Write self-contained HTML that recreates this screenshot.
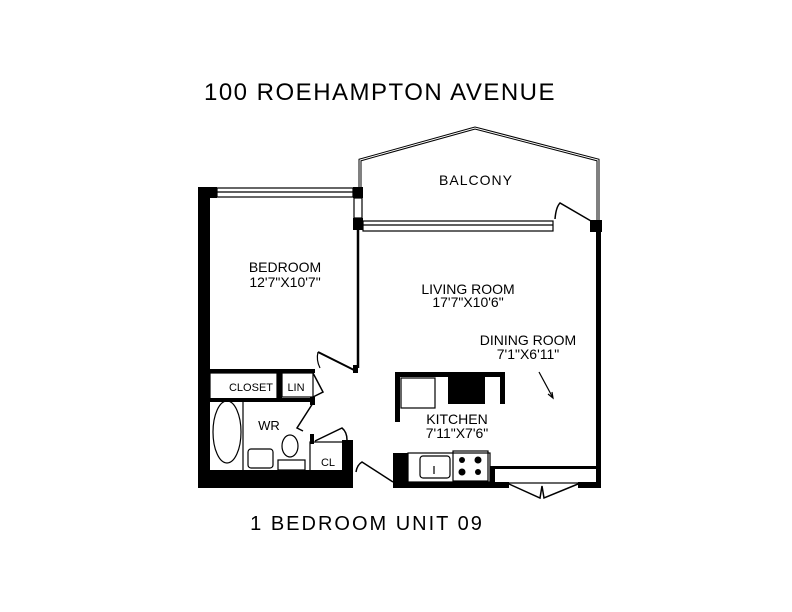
<!DOCTYPE html>
<html><head><meta charset="utf-8"><style>
html,body{margin:0;padding:0;background:#fff;width:792px;height:612px;overflow:hidden}
svg{display:block}
text{font-family:"Liberation Sans",sans-serif;fill:#000}
</style></head><body>
<svg width="792" height="612" viewBox="0 0 792 612" xmlns="http://www.w3.org/2000/svg">
<g fill="none" stroke="#000" stroke-width="1.2">
<polyline points="360,187 360,160 475,128 598,160 598,220" stroke-width="3"/>
<polyline points="360,187 360,160 475,128 598,160 598,220" stroke="#fff" stroke-width="1"/>
<rect x="217" y="188" width="136" height="9"/>
<line x1="217" y1="192" x2="353" y2="192"/>
<rect x="354" y="198" width="8" height="20"/>
<rect x="363" y="221" width="190" height="10"/>
<line x1="363" y1="225" x2="553" y2="225"/>
<path d="M555,219 Q556,207 560,203 L591,221" stroke-width="1.5"/>
<line x1="358" y1="230" x2="358" y2="368" stroke-width="2.5"/>
<path d="M318,352 Q316,360 320,368" />
<line x1="318" y1="352" x2="354" y2="370" stroke-width="2"/>
<rect x="210" y="373" width="67" height="26"/>
<rect x="282" y="373" width="31" height="24"/>
<polyline points="313,373 323,392 313,397" stroke-width="1.5"/>
<line x1="243" y1="402" x2="243" y2="470"/>
<ellipse cx="227" cy="432" rx="14" ry="31"/>
<rect x="248" y="449" width="25" height="19" rx="3"/>
<ellipse cx="290" cy="446" rx="8" ry="11"/>
<rect x="278" y="460" width="27" height="10"/>
<polyline points="313,403 297,428 303,431" stroke-width="1.5"/>
<rect x="310" y="442" width="42" height="29"/>
<path d="M315,441 L342,428 Q347,432 347,440" stroke-width="1.5"/>
<path d="M356,472 Q357,465 362,462 L393,482" stroke-width="1.5"/>
<rect x="401" y="378" width="34" height="30"/>
<rect x="408" y="453" width="82" height="29"/>
<rect x="420" y="456" width="30" height="22" rx="3"/>
<line x1="434" y1="466" x2="434" y2="474"/>
<rect x="453" y="451" width="35" height="30"/>
<rect x="491" y="468" width="107" height="15"/>
<polyline points="509,484 540,498 542,486 544,498 578,484" stroke-width="1.5"/>
<line x1="539" y1="372" x2="553" y2="398"/>
<polyline points="548,394 553,398 552,392"/>
</g>
<g fill="#000">
<rect x="198" y="187" width="12" height="301"/>
<rect x="198" y="187" width="19" height="11"/>
<rect x="353" y="187" width="10" height="11"/>
<rect x="353" y="218" width="10" height="12"/>
<rect x="353" y="365" width="5" height="8"/>
<rect x="590" y="220" width="12" height="12"/>
<rect x="596" y="220" width="5" height="268"/>
<rect x="210" y="369" width="105" height="4"/>
<rect x="277" y="369" width="5" height="31"/>
<rect x="210" y="398" width="105" height="4"/>
<rect x="310" y="397" width="5" height="8"/>
<rect x="310" y="434" width="4" height="10"/>
<rect x="342" y="440" width="11" height="35"/>
<rect x="198" y="470" width="155" height="18"/>
<rect x="393" y="482" width="116" height="6"/>
<rect x="578" y="482" width="23" height="6"/>
<rect x="393" y="453" width="15" height="30"/>
<rect x="395" y="372" width="110" height="5"/>
<rect x="395" y="372" width="5" height="50"/>
<rect x="448" y="377" width="37" height="27"/>
<rect x="500" y="372" width="5" height="32"/>
<rect x="490" y="466" width="5" height="17"/>
<rect x="490" y="466" width="110" height="3"/>
<circle cx="462" cy="460" r="3"/><circle cx="478" cy="460" r="3.5"/>
<circle cx="462" cy="472" r="3.5"/><circle cx="478" cy="472" r="3"/>
</g>
<text x="380" y="100" font-size="24" text-anchor="middle" letter-spacing="1.5">100 ROEHAMPTON AVENUE</text>
<text x="367" y="530" font-size="20" text-anchor="middle" letter-spacing="2">1 BEDROOM UNIT 09</text>
<text x="476" y="185" font-size="14" text-anchor="middle" letter-spacing="1">BALCONY</text>
<text x="285" y="272" font-size="14" text-anchor="middle">BEDROOM</text>
<text x="285" y="287" font-size="14" text-anchor="middle">12'7"X10'7"</text>
<text x="468" y="294" font-size="14" text-anchor="middle">LIVING ROOM</text>
<text x="468" y="307" font-size="14" text-anchor="middle">17'7"X10'6"</text>
<text x="528" y="345" font-size="14" text-anchor="middle">DINING ROOM</text>
<text x="528" y="359" font-size="14" text-anchor="middle">7'1"X6'11"</text>
<text x="457" y="424" font-size="14" text-anchor="middle">KITCHEN</text>
<text x="457" y="438" font-size="14" text-anchor="middle">7'11"X7'6"</text>
<text x="251" y="391" font-size="11" text-anchor="middle">CLOSET</text>
<text x="296" y="391" font-size="11" text-anchor="middle">LIN</text>
<text x="269" y="430" font-size="13" text-anchor="middle">WR</text>
<text x="328" y="466" font-size="11" text-anchor="middle">CL</text>
</svg>
</body></html>
